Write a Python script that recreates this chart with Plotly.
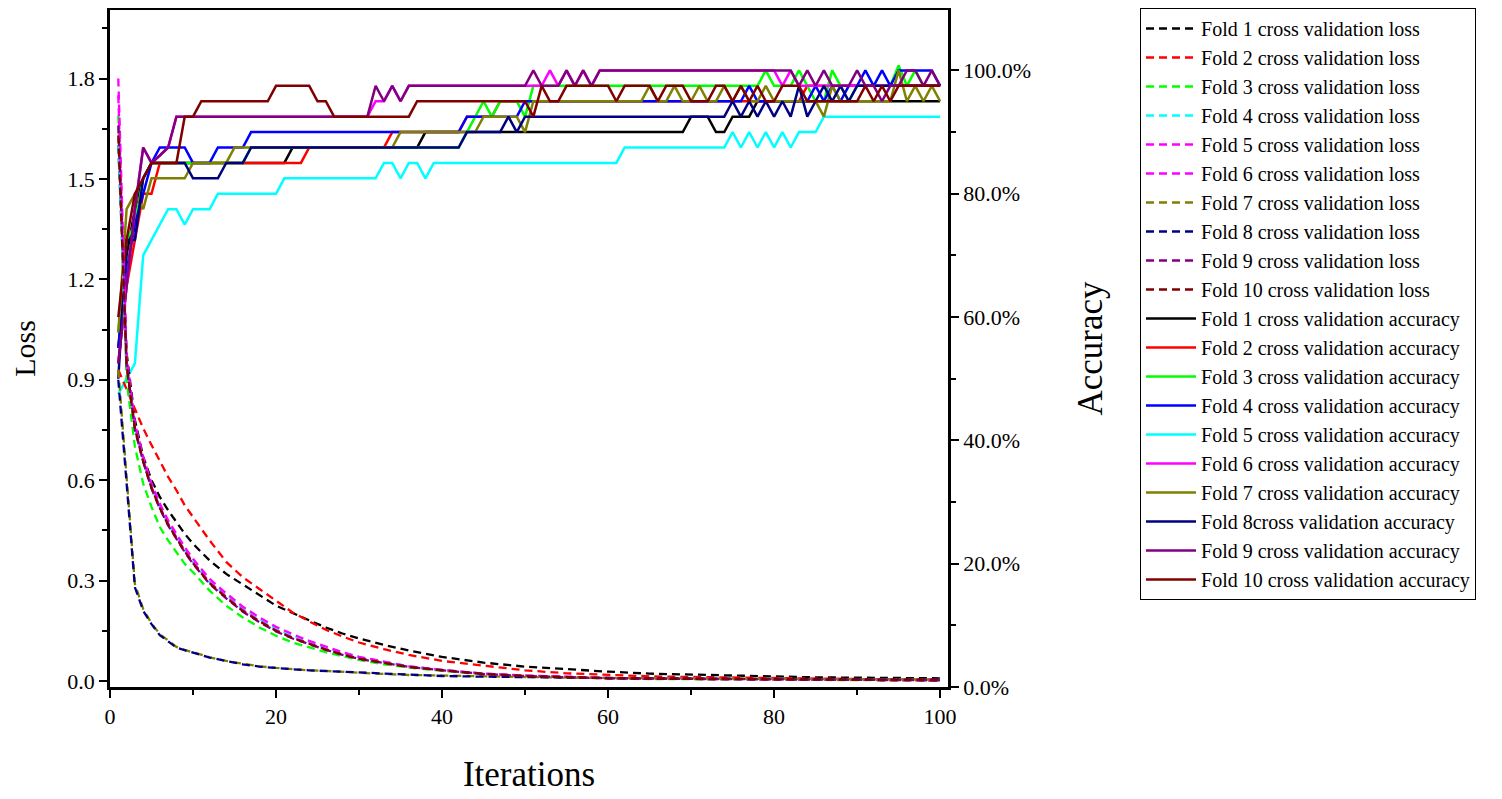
import plotly.graph_objects as go

iterations = list(range(1, 101))
loss_iters = [1, 2, 3, 4, 5, 6, 7, 8, 9, 10, 12, 14, 16, 18, 20, 22, 24, 26, 28, 30,
              33, 36, 40, 45, 50, 55, 60, 65, 70, 75, 80, 85, 90, 95, 100]

loss_fold1 = [1.60, 0.98, 0.78, 0.67, 0.60, 0.55, 0.51, 0.475, 0.44, 0.41, 0.36, 0.32, 0.288, 0.255, 0.225,
              0.203, 0.182, 0.16, 0.142, 0.127, 0.108, 0.091, 0.072, 0.055, 0.043, 0.035, 0.028, 0.022,
              0.019, 0.016, 0.013, 0.011, 0.010, 0.009, 0.008]
loss_fold2 = [0.93, 0.87, 0.81, 0.755, 0.705, 0.655, 0.61, 0.57, 0.525, 0.49, 0.42, 0.356, 0.31, 0.275, 0.24,
              0.205, 0.178, 0.153, 0.133, 0.115, 0.095, 0.078, 0.06, 0.045, 0.032, 0.023, 0.018, 0.014,
              0.012, 0.010, 0.008, 0.007, 0.006, 0.005, 0.005]
loss_fold3 = [1.69, 0.90, 0.70, 0.59, 0.52, 0.46, 0.42, 0.385, 0.35, 0.325, 0.27, 0.225, 0.19, 0.16, 0.135,
              0.115, 0.10, 0.086, 0.074, 0.063, 0.05, 0.04, 0.03, 0.021, 0.015, 0.011, 0.008, 0.006,
              0.005, 0.004, 0.004, 0.003, 0.003, 0.002, 0.002]
loss_fold4 = [1.60, 0.95, 0.76, 0.66, 0.58, 0.52, 0.47, 0.43, 0.39, 0.355, 0.295, 0.257, 0.217, 0.185, 0.157,
              0.135, 0.117, 0.1, 0.085, 0.072, 0.057, 0.044, 0.033, 0.022, 0.016, 0.012, 0.009, 0.007,
              0.006, 0.005, 0.004, 0.004, 0.003, 0.003, 0.002]
loss_fold5 = [1.80, 0.97, 0.77, 0.67, 0.59, 0.53, 0.48, 0.44, 0.40, 0.365, 0.305, 0.262, 0.222, 0.19, 0.162,
              0.14, 0.12, 0.103, 0.086, 0.072, 0.057, 0.044, 0.033, 0.022, 0.016, 0.012, 0.009, 0.007,
              0.006, 0.005, 0.004, 0.004, 0.003, 0.003, 0.002]
loss_fold6 = [1.75, 0.95, 0.76, 0.66, 0.58, 0.52, 0.47, 0.43, 0.39, 0.355, 0.295, 0.252, 0.212, 0.18, 0.152,
              0.13, 0.112, 0.095, 0.08, 0.068, 0.055, 0.043, 0.033, 0.022, 0.016, 0.012, 0.009, 0.007,
              0.006, 0.005, 0.004, 0.004, 0.003, 0.003, 0.002]
loss_fold7 = [0.93, 0.60, 0.29, 0.215, 0.172, 0.14, 0.12, 0.102, 0.093, 0.086, 0.071, 0.06, 0.051, 0.044, 0.039,
              0.035, 0.032, 0.03, 0.027, 0.025, 0.021, 0.018, 0.016, 0.013, 0.011, 0.01, 0.009, 0.008,
              0.007, 0.007, 0.006, 0.005, 0.005, 0.005, 0.004]
loss_fold8 = [0.90, 0.58, 0.28, 0.21, 0.17, 0.137, 0.118, 0.10, 0.092, 0.085, 0.07, 0.06, 0.05, 0.043, 0.038,
              0.035, 0.032, 0.03, 0.027, 0.024, 0.021, 0.018, 0.015, 0.013, 0.011, 0.01, 0.009, 0.008,
              0.007, 0.006, 0.006, 0.005, 0.005, 0.004, 0.004]
loss_fold9 = [1.66, 0.94, 0.75, 0.655, 0.575, 0.515, 0.465, 0.425, 0.385, 0.35, 0.29, 0.247, 0.207, 0.176, 0.148,
              0.127, 0.109, 0.093, 0.078, 0.066, 0.054, 0.042, 0.032, 0.021, 0.015, 0.011, 0.008, 0.007,
              0.006, 0.005, 0.004, 0.003, 0.003, 0.002, 0.002]
loss_fold10 = [1.63, 0.945, 0.755, 0.655, 0.577, 0.517, 0.467, 0.427, 0.387, 0.352, 0.292, 0.249, 0.209, 0.178,
               0.15, 0.128, 0.11, 0.094, 0.079, 0.067, 0.054, 0.042, 0.032, 0.021, 0.015, 0.011, 0.008,
               0.007, 0.006, 0.005, 0.004, 0.004, 0.003, 0.002, 0.002]

acc_fold1 = [55, 70, 77.5, 82.5, 85, 85, 85, 85, 85, 85,
             85, 85, 85, 85, 85, 85, 85, 85, 85, 85,
             85, 87.5, 87.5, 87.5, 87.5, 87.5, 87.5, 87.5, 87.5, 87.5,
             87.5, 87.5, 87.5, 87.5, 87.5, 87.5, 87.5, 90, 90, 90,
             90, 90, 90, 90, 90, 90, 90, 90, 90, 90,
             90, 90, 90, 90, 90, 90, 90, 90, 90, 90,
             90, 90, 90, 90, 90, 90, 90, 90, 90, 92.5,
             92.5, 92.5, 90, 90, 92.5, 92.5, 92.5, 95, 95, 95,
             95, 95, 95, 95, 95, 95, 95, 95, 95, 95,
             95, 95, 95, 95, 95, 95, 95, 95, 95, 95]
acc_fold2 = [52.5, 65, 72.5, 80, 80, 85, 85, 85, 85, 85,
             85, 85, 85, 85, 85, 85, 85, 85, 85, 85,
             85, 85, 85, 87.5, 87.5, 87.5, 87.5, 87.5, 87.5, 87.5,
             87.5, 87.5, 87.5, 90, 90, 90, 90, 90, 90, 90,
             90, 90, 92.5, 92.5, 92.5, 92.5, 95, 95, 95, 95,
             95, 95, 95, 95, 95, 95, 95, 95, 95, 95,
             95, 95, 95, 95, 95, 95, 95, 95, 95, 95,
             95, 95, 95, 95, 95, 95, 95, 95, 95, 95,
             95, 95, 95, 97.5, 97.5, 97.5, 97.5, 97.5, 97.5, 97.5,
             97.5, 97.5, 97.5, 97.5, 97.5, 97.5, 97.5, 97.5, 97.5, 97.5]
acc_fold3 = [57.5, 72.5, 75, 82.5, 85, 85, 85, 85, 85, 85,
             85, 85, 85, 85, 85, 85, 87.5, 87.5, 87.5, 87.5,
             87.5, 87.5, 87.5, 87.5, 87.5, 87.5, 87.5, 87.5, 87.5, 87.5,
             87.5, 87.5, 87.5, 87.5, 87.5, 87.5, 87.5, 87.5, 87.5, 87.5,
             87.5, 87.5, 90, 92.5, 95, 92.5, 95, 95, 95, 92.5,
             97.5, 97.5, 97.5, 97.5, 97.5, 97.5, 97.5, 97.5, 97.5, 97.5,
             97.5, 97.5, 97.5, 97.5, 97.5, 97.5, 97.5, 97.5, 97.5, 97.5,
             97.5, 97.5, 97.5, 97.5, 97.5, 97.5, 97.5, 97.5, 100, 97.5,
             97.5, 97.5, 100, 97.5, 95, 95, 100, 97.5, 95, 97.5,
             97.5, 97.5, 97.5, 97.5, 100.8, 97.5, 100, 97.5, 97.5, 97.5]
acc_fold4 = [55, 67.5, 75, 80, 85, 87.5, 87.5, 87.5, 87.5, 85,
             85, 85, 87.5, 87.5, 87.5, 87.5, 90, 90, 90, 90,
             90, 90, 90, 90, 90, 90, 90, 90, 90, 90,
             90, 90, 90, 90, 90, 90, 90, 90, 90, 90,
             90, 90, 92.5, 92.5, 92.5, 92.5, 92.5, 92.5, 92.5, 95,
             95, 95, 95, 95, 95, 95, 95, 95, 95, 95,
             95, 95, 95, 95, 95, 95, 95, 95, 95, 95,
             95, 95, 95, 95, 95, 95, 97.5, 95, 95, 95,
             95, 95, 95, 95, 97.5, 95, 97.5, 95, 97.5, 97.5,
             100, 97.5, 100, 97.5, 100, 100, 100, 100, 100, 97.5]
acc_fold5 = [47.5, 50, 52.5, 70, 72.5, 75, 77.5, 77.5, 75, 77.5,
             77.5, 77.5, 80, 80, 80, 80, 80, 80, 80, 80,
             82.5, 82.5, 82.5, 82.5, 82.5, 82.5, 82.5, 82.5, 82.5, 82.5,
             82.5, 82.5, 85, 85, 82.5, 85, 85, 82.5, 85, 85,
             85, 85, 85, 85, 85, 85, 85, 85, 85, 85,
             85, 85, 85, 85, 85, 85, 85, 85, 85, 85,
             85, 87.5, 87.5, 87.5, 87.5, 87.5, 87.5, 87.5, 87.5, 87.5,
             87.5, 87.5, 87.5, 87.5, 90, 87.5, 90, 87.5, 90, 87.5,
             90, 87.5, 90, 90, 90, 92.5, 92.5, 92.5, 92.5, 92.5,
             92.5, 92.5, 92.5, 92.5, 92.5, 92.5, 92.5, 92.5, 92.5, 92.5]
acc_fold6 = [52.5, 65, 77.5, 87.5, 85, 86.2, 87.5, 92.5, 92.5, 92.5,
             92.5, 92.5, 92.5, 92.5, 92.5, 92.5, 92.5, 92.5, 92.5, 92.5,
             92.5, 92.5, 92.5, 92.5, 92.5, 92.5, 92.5, 92.5, 92.5, 92.5,
             92.5, 95, 95, 97.5, 95, 97.5, 97.5, 97.5, 97.5, 97.5,
             97.5, 97.5, 97.5, 97.5, 97.5, 97.5, 97.5, 97.5, 97.5, 97.5,
             97.5, 97.5, 100, 97.5, 100, 97.5, 100, 97.5, 100, 100,
             100, 100, 100, 100, 100, 100, 100, 100, 100, 100,
             100, 100, 100, 100, 100, 100, 100, 100, 100, 100,
             97.5, 100, 97.5, 97.5, 97.5, 97.5, 97.5, 97.5, 97.5, 97.5,
             97.5, 97.5, 97.5, 97.5, 97.5, 97.5, 97.5, 97.5, 97.5, 97.5]
acc_fold7 = [57.5, 77.5, 80, 77.5, 82.5, 82.5, 82.5, 82.5, 82.5, 85,
             85, 85, 85, 85, 87.5, 87.5, 87.5, 87.5, 87.5, 87.5,
             87.5, 87.5, 87.5, 87.5, 87.5, 87.5, 87.5, 87.5, 87.5, 87.5,
             87.5, 87.5, 87.5, 87.5, 90, 90, 90, 90, 90, 90,
             90, 90, 90, 90, 92.5, 92.5, 92.5, 92.5, 92.5, 90,
             95, 95, 95, 95, 95, 95, 95, 95, 95, 95,
             95, 95, 95, 95, 97.5, 95, 95, 97.5, 95, 95,
             97.5, 95, 95, 97.5, 95, 97.5, 95, 95, 97.5, 95,
             95, 95, 95, 95, 95, 92.5, 97.5, 95, 95, 95,
             95, 95, 95, 95, 100, 95, 97.5, 95, 97.5, 95]
acc_fold8 = [50, 72.5, 72.5, 82.5, 85, 85, 85, 85, 85, 82.5,
             82.5, 82.5, 82.5, 85, 85, 85, 87.5, 87.5, 87.5, 87.5,
             87.5, 87.5, 87.5, 87.5, 87.5, 87.5, 87.5, 87.5, 87.5, 87.5,
             87.5, 87.5, 87.5, 87.5, 87.5, 87.5, 87.5, 87.5, 87.5, 87.5,
             87.5, 87.5, 90, 90, 90, 90, 90, 92.5, 90, 92.5,
             92.5, 92.5, 92.5, 92.5, 92.5, 92.5, 92.5, 92.5, 92.5, 92.5,
             92.5, 92.5, 92.5, 92.5, 92.5, 92.5, 92.5, 92.5, 92.5, 92.5,
             92.5, 92.5, 92.5, 92.5, 95, 92.5, 95, 92.5, 95, 92.5,
             95, 92.5, 97.5, 92.5, 95, 97.5, 95, 97.5, 95, 97.5,
             97.5, 97.5, 97.5, 97.5, 97.5, 97.5, 97.5, 97.5, 97.5, 97.5]
acc_fold9 = [52.5, 65, 77.5, 87.5, 85, 86.2, 87.5, 92.5, 92.5, 92.5,
             92.5, 92.5, 92.5, 92.5, 92.5, 92.5, 92.5, 92.5, 92.5, 92.5,
             92.5, 92.5, 92.5, 92.5, 92.5, 92.5, 92.5, 92.5, 92.5, 92.5,
             92.5, 97.5, 95, 97.5, 95, 97.5, 97.5, 97.5, 97.5, 97.5,
             97.5, 97.5, 97.5, 97.5, 97.5, 97.5, 97.5, 97.5, 97.5, 97.5,
             100, 97.5, 97.5, 97.5, 100, 97.5, 100, 97.5, 100, 100,
             100, 100, 100, 100, 100, 100, 100, 100, 100, 100,
             100, 100, 100, 100, 100, 100, 100, 100, 100, 100,
             100, 100, 97.5, 100, 97.5, 100, 97.5, 97.5, 97.5, 100,
             97.5, 97.5, 95, 97.5, 97.5, 100, 100, 97.5, 100, 97.5]
acc_fold10 = [60, 72.5, 80, 82.5, 85, 85, 85, 85, 92.5, 92.5,
              95, 95, 95, 95, 95, 95, 95, 95, 95, 97.5,
              97.5, 97.5, 97.5, 97.5, 95, 95, 92.5, 92.5, 92.5, 92.5,
              92.5, 92.5, 92.5, 92.5, 92.5, 92.5, 95, 95, 95, 95,
              95, 95, 95, 95, 95, 95, 95, 95, 95, 95,
              92.5, 97.5, 95, 95, 97.5, 97.5, 97.5, 97.5, 97.5, 97.5,
              95, 97.5, 97.5, 97.5, 97.5, 95, 97.5, 97.5, 97.5, 95,
              95, 95, 97.5, 97.5, 95, 97.5, 95, 97.5, 95, 95,
              97.5, 97.5, 97.5, 95, 95, 95, 95, 95, 95, 95,
              97.5, 95, 97.5, 95, 97.5, 97.5, 97.5, 97.5, 97.5, 97.5]

loss_names = ["Fold 1 cross validation loss", "Fold 2 cross validation loss",
              "Fold 3 cross validation loss", "Fold 4 cross validation loss",
              "Fold 5 cross validation loss", "Fold 6 cross validation loss",
              "Fold 7 cross validation loss", "Fold 8 cross validation loss",
              "Fold 9 cross validation loss", "Fold 10 cross validation loss"]
acc_names = ["Fold 1 cross validation accuracy", "Fold 2 cross validation accuracy",
             "Fold 3 cross validation accuracy", "Fold 4 cross validation accuracy",
             "Fold 5 cross validation accuracy", "Fold 6 cross validation accuracy",
             "Fold 7 cross validation accuracy", "Fold 8cross validation accuracy",
             "Fold 9 cross validation accuracy", "Fold 10 cross validation accuracy"]
loss_colors = ["#000000", "#FF0000", "#00FF00", "#00FFFF", "#FF00FF",
               "#FF00FF", "#808000", "#000080", "#800080", "#800000"]
acc_colors = ["#000000", "#FF0000", "#00FF00", "#0000FF", "#00FFFF",
              "#FF00FF", "#808000", "#000080", "#800080", "#800000"]

loss_ticks = [0, 0.3, 0.6, 0.9, 1.2, 1.5, 1.8]
acc_ticks = [0, 20, 40, 60, 80, 100]
acc_tick_labels = ["0.0%", "20.0%", "40.0%", "60.0%", "80.0%", "100.0%"]
iter_ticks = [0, 20, 40, 60, 80, 100]

loss_series = [loss_fold1, loss_fold2, loss_fold3, loss_fold4, loss_fold5,
               loss_fold6, loss_fold7, loss_fold8, loss_fold9, loss_fold10]
acc_series = [acc_fold1, acc_fold2, acc_fold3, acc_fold4, acc_fold5,
              acc_fold6, acc_fold7, acc_fold8, acc_fold9, acc_fold10]

FONT = "Liberation Serif, Times New Roman, serif"

fig = go.Figure()
for name, col, vals in zip(loss_names, loss_colors, loss_series):
    fig.add_trace(go.Scatter(x=loss_iters, y=vals, name=name, mode="lines", yaxis="y2",
                             line=dict(color=col, width=2.3, dash="8px,5px")))
for name, col, vals in zip(acc_names, acc_colors, acc_series):
    fig.add_trace(go.Scatter(x=iterations, y=vals, name=name, mode="lines", yaxis="y",
                             line=dict(color=col, width=2.5)))

axis_common = dict(showline=True, linecolor="black", linewidth=2.5, ticks="outside",
                   tickcolor="black", tickwidth=2, ticklen=8, showgrid=False, zeroline=False,
                   tickfont=dict(family=FONT, size=22, color="black"), automargin=False)
minor_common = dict(ticks="outside", ticklen=5, tickwidth=2, tickcolor="black", tick0=0)

# page body adds an 8px offset, so the figure is 8px smaller and margins are shifted
fig.update_layout(
    width=1494, height=791,
    margin=dict(l=102, r=554, t=2, b=112),
    paper_bgcolor="white", plot_bgcolor="white",
    font=dict(family=FONT, color="black"),
    xaxis=dict(range=[0, 100.95], tickvals=iter_ticks, mirror=True,
               minor=dict(dtick=10, **minor_common),
               title=dict(text="Iterations", font=dict(family=FONT, size=35), standoff=34),
               **axis_common),
    yaxis=dict(range=[0, 109.8], side="right", tickvals=acc_ticks, ticktext=acc_tick_labels,
               minor=dict(dtick=10, **minor_common),
               title=dict(text="Accuracy", font=dict(family=FONT, size=35), standoff=48),
               **axis_common),
    yaxis2=dict(range=[-0.0179, 2.0048], overlaying="y", side="left", anchor="x",
                tickvals=loss_ticks, tickformat=".1f",
                minor=dict(dtick=0.15, **minor_common),
                title=dict(text="Loss", font=dict(family=FONT, size=30), standoff=37),
                **axis_common),
    legend=dict(xref="container", yref="container", x=0.7577, y=1.0,
                xanchor="left", yanchor="top", bordercolor="black", borderwidth=1,
                bgcolor="white", font=dict(family=FONT, size=20, color="black"),
                tracegroupgap=0, itemwidth=50, maxheight=790),
)

fig.write_html("out.html")
